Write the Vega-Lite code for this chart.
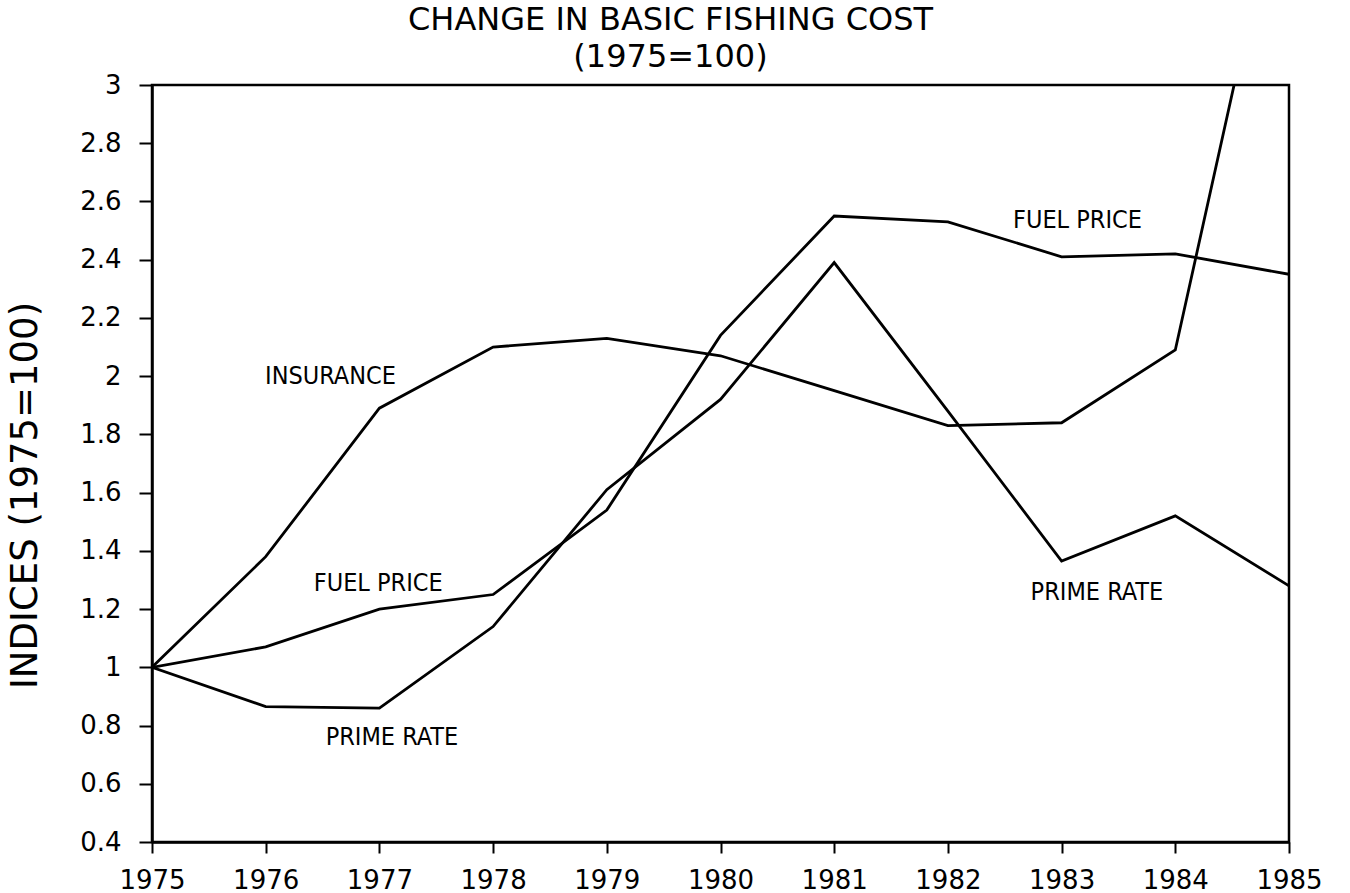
{
  "$schema": "https://vega.github.io/schema/vega-lite/v6.json",
  "width": 1137,
  "height": 757,
  "autosize": {"type": "none"},
  "padding": {"left": 152, "top": 85, "right": 61, "bottom": 51},
  "background": "white",
  "config": {
    "view": {"stroke": "black", "strokeWidth": 2.5},
    "axis": {
      "grid": false,
      "domainColor": "black",
      "domainWidth": 2.5,
      "tickColor": "black",
      "tickWidth": 2,
      "labelColor": "black",
      "labelFont": "DejaVu Sans",
      "labelFontSize": 26,
      "labelFlush": false,
      "labelOverlap": false,
      "titleColor": "black"
    }
  },
  "title": {
    "text": ["CHANGE IN BASIC FISHING COST", "(1975=100)"],
    "font": "DejaVu Sans",
    "fontSize": 32,
    "fontWeight": "normal",
    "color": "black",
    "anchor": "middle",
    "dx": -50,
    "offset": -2,
    "lineHeight": 37
  },
  "datasets": {
    "series": [
      {"series": "Insurance", "year": 1975, "index": 1.0},
      {"series": "Insurance", "year": 1976, "index": 1.38},
      {"series": "Insurance", "year": 1977, "index": 1.89},
      {"series": "Insurance", "year": 1978, "index": 2.10},
      {"series": "Insurance", "year": 1979, "index": 2.13},
      {"series": "Insurance", "year": 1980, "index": 2.07},
      {"series": "Insurance", "year": 1981, "index": 1.95},
      {"series": "Insurance", "year": 1982, "index": 1.83},
      {"series": "Insurance", "year": 1983, "index": 1.84},
      {"series": "Insurance", "year": 1984, "index": 2.09},
      {"series": "Insurance", "year": 1985, "index": 3.85},
      {"series": "Fuel price", "year": 1975, "index": 1.0},
      {"series": "Fuel price", "year": 1976, "index": 1.07},
      {"series": "Fuel price", "year": 1977, "index": 1.20},
      {"series": "Fuel price", "year": 1978, "index": 1.25},
      {"series": "Fuel price", "year": 1979, "index": 1.54},
      {"series": "Fuel price", "year": 1980, "index": 2.14},
      {"series": "Fuel price", "year": 1981, "index": 2.55},
      {"series": "Fuel price", "year": 1982, "index": 2.53},
      {"series": "Fuel price", "year": 1983, "index": 2.41},
      {"series": "Fuel price", "year": 1984, "index": 2.42},
      {"series": "Fuel price", "year": 1985, "index": 2.35},
      {"series": "Prime rate", "year": 1975, "index": 1.0},
      {"series": "Prime rate", "year": 1976, "index": 0.865},
      {"series": "Prime rate", "year": 1977, "index": 0.86},
      {"series": "Prime rate", "year": 1978, "index": 1.14},
      {"series": "Prime rate", "year": 1979, "index": 1.61},
      {"series": "Prime rate", "year": 1980, "index": 1.92},
      {"series": "Prime rate", "year": 1981, "index": 2.39},
      {"series": "Prime rate", "year": 1982, "index": 1.88},
      {"series": "Prime rate", "year": 1983, "index": 1.365},
      {"series": "Prime rate", "year": 1984, "index": 1.52},
      {"series": "Prime rate", "year": 1985, "index": 1.28}
    ],
    "labels": [
      {"label": "INSURANCE", "year": 1976.57, "index": 2.0},
      {"label": "FUEL PRICE", "year": 1976.99, "index": 1.29},
      {"label": "PRIME RATE", "year": 1977.11, "index": 0.76},
      {"label": "FUEL PRICE", "year": 1983.14, "index": 2.535},
      {"label": "PRIME RATE", "year": 1983.31, "index": 1.257}
    ]
  },
  "layer": [
    {
      "data": {"name": "series"},
      "mark": {"type": "line", "clip": true, "color": "black", "strokeWidth": 2.8},
      "encoding": {
        "x": {
          "field": "year",
          "type": "quantitative",
          "scale": {"domain": [1975, 1985], "nice": false, "zero": false},
          "axis": {
            "values": [1975, 1976, 1977, 1978, 1979, 1980, 1981, 1982, 1983, 1984, 1985],
            "format": "d",
            "tickSize": 11,
            "labelPadding": 14,
            "title": null
          }
        },
        "y": {
          "field": "index",
          "type": "quantitative",
          "scale": {"domain": [0.4, 3], "nice": false, "zero": false},
          "axis": {
            "values": [0.4, 0.6, 0.8, 1, 1.2, 1.4, 1.6, 1.8, 2, 2.2, 2.4, 2.6, 2.8, 3],
            "format": ".1~f",
            "tickSize": 13,
            "labelPadding": 18,
            "title": "INDICES (1975=100)",
            "titleFont": "DejaVu Sans",
            "titleFontSize": 37,
            "titleFontWeight": "normal",
            "titleX": -127,
            "titleY": 410,
            "titleAngle": -90,
            "titleAlign": "center",
            "titleBaseline": "middle"
          }
        },
        "detail": {"field": "series"}
      }
    },
    {
      "data": {"name": "labels"},
      "mark": {"type": "text", "font": "DejaVu Sans Condensed", "fontSize": 25, "color": "black", "align": "center", "baseline": "middle"},
      "encoding": {
        "x": {"field": "year", "type": "quantitative"},
        "y": {"field": "index", "type": "quantitative"},
        "text": {"field": "label"}
      }
    }
  ]
}
